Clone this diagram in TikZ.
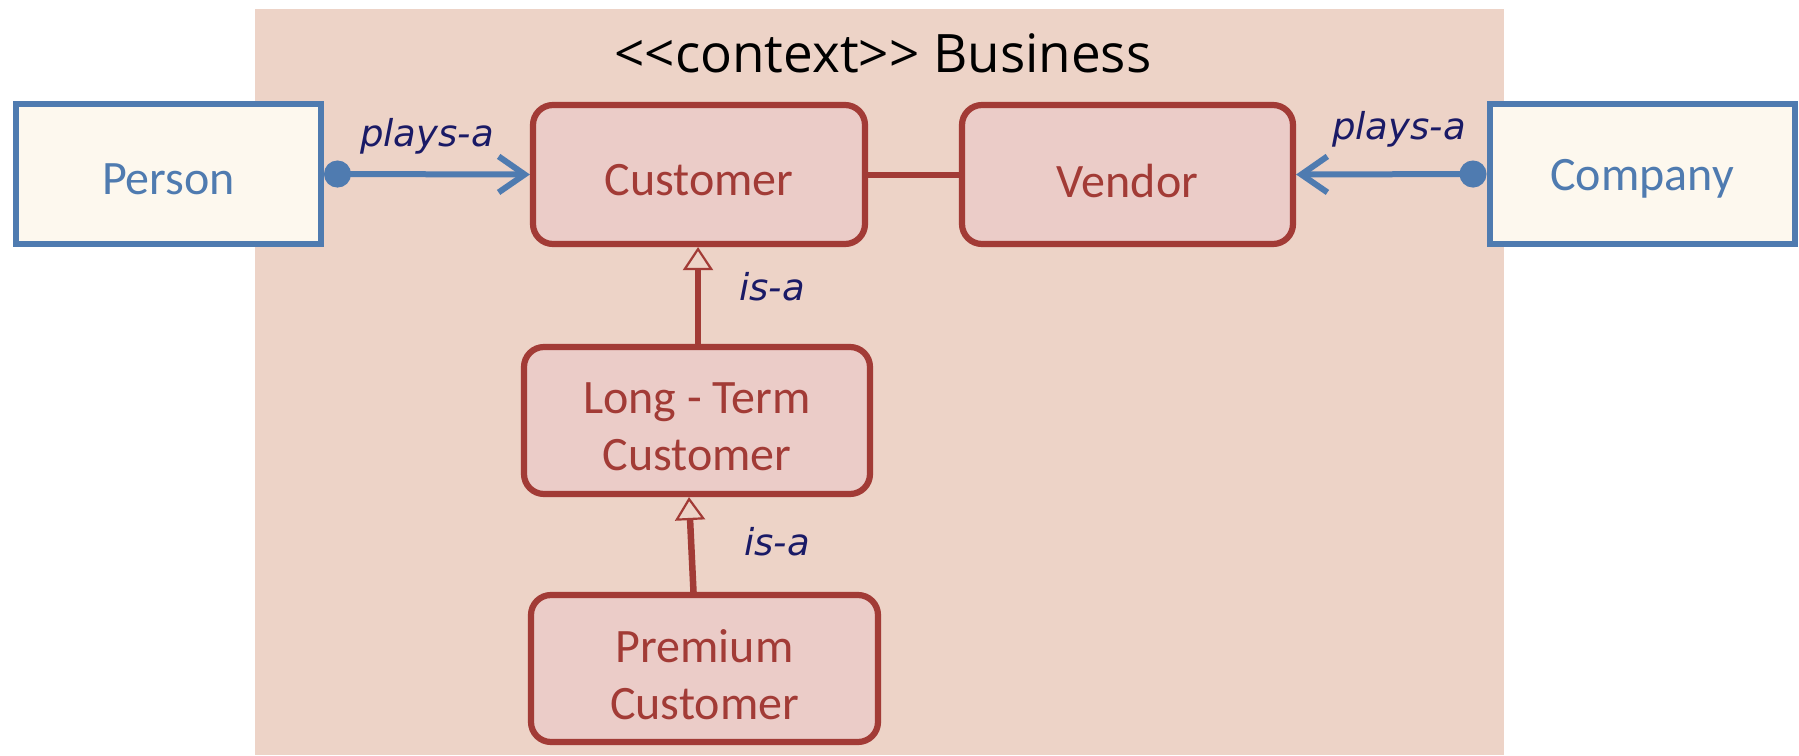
\documentclass[tikz,border=0pt]{standalone}
\usepackage{fontspec}
\setmainfont{Carlito}
\newfontfamily\titlefont{Open Sans}
\newfontfamily\labelfont{DejaVu Sans}
\usetikzlibrary{arrows.meta}
\definecolor{bgc}{HTML}{EDD3C7}
\definecolor{redc}{HTML}{A23B36}
\definecolor{pinkc}{HTML}{EBCCC8}
\definecolor{bluec}{HTML}{4F7BB0}
\definecolor{creamc}{HTML}{FDF8EE}
\definecolor{navyc}{HTML}{1A1A66}
\tikzset{
  ext/.style={draw=bluec, fill=creamc, line width=6pt, inner sep=0pt,
    minimum width=305pt, minimum height=140pt},
  etext/.style={text=bluec, font=\fontsize{48}{57}\selectfont, yshift=-5pt, inner sep=0pt},
  cls/.style={draw=redc, fill=pinkc, line width=6.2pt, inner sep=0pt, rounded corners=20pt},
  ctext/.style={text=redc, align=center, font=\fontsize{48}{57}\selectfont, yshift=-6pt, inner sep=0pt},
  rel/.style={text=navyc, font=\labelfont\itshape\fontsize{37}{40}\selectfont, anchor=base, inner sep=0pt},
  plays/.style={draw=bluec, line width=6pt,
    {Circle[length=27pt]}-{Straight Barb[length=26pt,width=36pt]}},
  isa/.style={draw=redc, line width=6.5pt,
    -{Triangle[length=23pt,width=30pt,fill=bgc,line width=2.2pt]}},
  assoc/.style={draw=redc, line width=6pt}
}
\begin{document}
\begin{tikzpicture}[x=1pt,y=-1pt]
\useasboundingbox (0,0) rectangle (1799,755);
\fill[bgc] (255,9) rectangle (1504,755);
\node[font=\titlefont\fontsize{53}{60}\selectfont, anchor=base] (title) at (883,72) {<<context>> Business};
\node[ext, label={[etext]center:Person}] (person) at (168.5,174) {};
\node[ext, label={[etext]center:Company}] (company) at (1642,174) {};
\node[cls, minimum width=332pt, minimum height=139pt, label={[ctext]center:Customer}] (customer) at (699,174.5) {};
\node[cls, minimum width=331pt, minimum height=139pt, label={[ctext]center:Vendor}] (vendor) at (1127.5,174.5) {};
\node[cls, minimum width=346pt, minimum height=147pt, label={[ctext]center:Long - Term\\Customer}] (ltc) at (697,420.5) {};
\node[cls, minimum width=347pt, minimum height=147pt, label={[ctext]center:Premium\\Customer}] (premium) at (704.5,668.5) {};
\draw[assoc] (customer.east) -- (vendor.west);
\draw[plays] (person.east) -- (customer.west);
\draw[plays] (company.west) -- (vendor.east);
\draw[isa] ([xshift=1pt]ltc.north) -- ([xshift=-1pt]customer.south);
\draw[isa] ([xshift=-11pt]premium.north) -- ([xshift=-8pt]ltc.south);
\node[rel] (l1) at (427,146) {plays-a};
\node[rel] (l2) at (1399,139) {plays-a};
\node[rel] (l3) at (772,300) {is-a};
\node[rel] (l4) at (777,555) {is-a};
\end{tikzpicture}
\end{document}
